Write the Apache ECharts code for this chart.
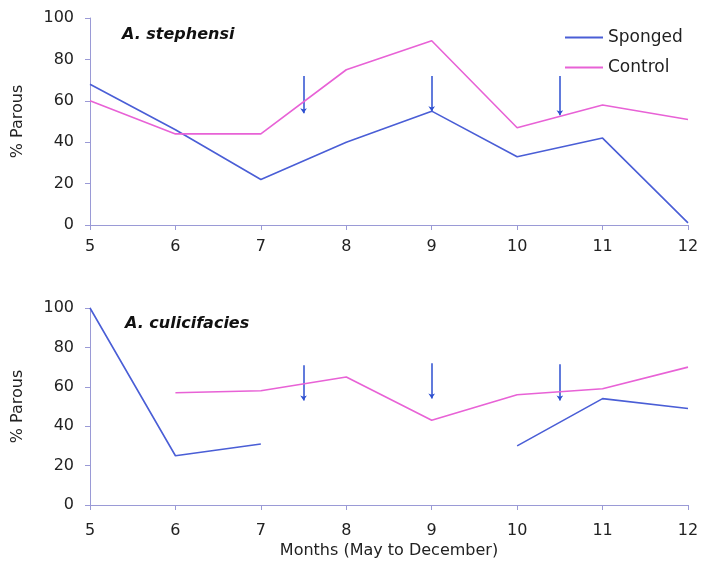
<!DOCTYPE html>
<html><head><meta charset="utf-8">
<script src="https://cdn.jsdelivr.net/npm/echarts@6/dist/echarts.min.js"></script>
<style>html,body{margin:0;padding:0;background:#fff}#c{width:702px;height:561px}</style>
</head><body><div id="c"></div>
<script>
var months = [5, 6, 7, 8, 9, 10, 11, 12];
var yTicks = [0, 20, 40, 60, 80, 100];
var stephSponged = [68, 46, 22, 40, 55, 33, 42, 1];
var stephControl = [60, 44, 44, 75, 89, 47, 58, 51];
var culicSponged = [100, 25, 31, null, null, 30, 54, 49];
var culicControl = [null, 57, 58, 65, 43, 56, 59, 70];
var arrowX = [7.5, 9, 10.5];
var stephArrowTop = [72, 72, 72];
var stephArrowBottom = [54, 55, 53];
var culicArrowTop = [71, 72, 71.5];
var culicArrowBottom = [53, 54, 53];

var C_SP = '#4a5ed6', C_CT = '#e862d6', C_AX = '#9a9ad6', C_AR = '#2d4fd0';
var FONT = 'DejaVu Sans, sans-serif';

function pairs(vals){ return months.map(function(m,i){ return [m, vals[i]==null ? '-' : vals[i]]; }); }
function arrows(top, bot){ return arrowX.map(function(x,i){ return {coords:[[x, top[i]],[x, bot[i]]]}; }); }

function xAx(idx, name, margin){
  return {gridIndex: idx, type:'value', min:5, max:12, interval:1,
    axisLine:{show:true, lineStyle:{color:C_AX, width:1}},
    axisTick:{show:true, length:5, lineStyle:{color:C_AX}},
    axisLabel:{color:'#222', fontSize:16, fontFamily:FONT, margin:margin},
    splitLine:{show:false},
    name: name || '', nameLocation:'middle', nameGap:38,
    nameTextStyle:{color:'#222', fontSize:16, fontFamily:FONT}};
}
function yAx(idx){
  return {gridIndex: idx, type:'value', min:yTicks[0], max:yTicks[yTicks.length-1], interval:20,
    axisLine:{show:true, lineStyle:{color:C_AX, width:1}},
    axisTick:{show:true, length:5, lineStyle:{color:C_AX}},
    axisLabel:{color:'#222', fontSize:16, fontFamily:FONT, margin:16},
    splitLine:{show:false},
    name:'% Parous', nameLocation:'middle', nameGap:64, nameRotate:90,
    nameTextStyle:{color:'#222', fontSize:16, fontFamily:FONT}};
}
function lineS(name, idx, vals, color){
  return {name:name, type:'line', xAxisIndex:idx, yAxisIndex:idx, data:pairs(vals),
    symbol:'none', connectNulls:false, lineStyle:{color:color, width:1.6}, itemStyle:{color:color},
    animation:false, silent:true};
}
function arrowS(idx, top, bot){
  return {type:'lines', coordinateSystem:'cartesian2d', xAxisIndex:idx, yAxisIndex:idx,
    data:arrows(top, bot), symbol:['none','arrow'], symbolSize:5,
    lineStyle:{color:C_AR, width:1.5, opacity:1}, animation:false, silent:true};
}

var chart = echarts.init(document.getElementById('c'), null, {renderer:'canvas'});
chart.setOption({
  backgroundColor:'#fff',
  animation:false,
  title:[
    {text:'A. stephensi', left:117, top:22, textStyle:{fontSize:16, fontStyle:'italic', fontWeight:'bold', color:'#111', fontFamily:FONT}},
    {text:'A. culicifacies', left:120, top:311, textStyle:{fontSize:16, fontStyle:'italic', fontWeight:'bold', color:'#111', fontFamily:FONT}}
  ],
  legend:{data:['Sponged','Control'], orient:'vertical', left:560, top:24, itemWidth:38, itemHeight:2, itemGap:13,
    textStyle:{fontSize:17, color:'#222', fontFamily:FONT}, icon:'rect'},
  grid:[
    {left:90, top:18, width:598, height:207},
    {left:90, top:308, width:598, height:197}
  ],
  xAxis:[xAx(0, '', 14), xAx(1, 'Months (May to December)', 18)],
  yAxis:[yAx(0), yAx(1)],
  series:[
    lineS('Sponged', 0, stephSponged, C_SP),
    lineS('Control', 0, stephControl, C_CT),
    lineS('Sponged', 1, culicSponged, C_SP),
    lineS('Control', 1, culicControl, C_CT),
    arrowS(0, stephArrowTop, stephArrowBottom),
    arrowS(1, culicArrowTop, culicArrowBottom)
  ]
});
</script></body></html>
